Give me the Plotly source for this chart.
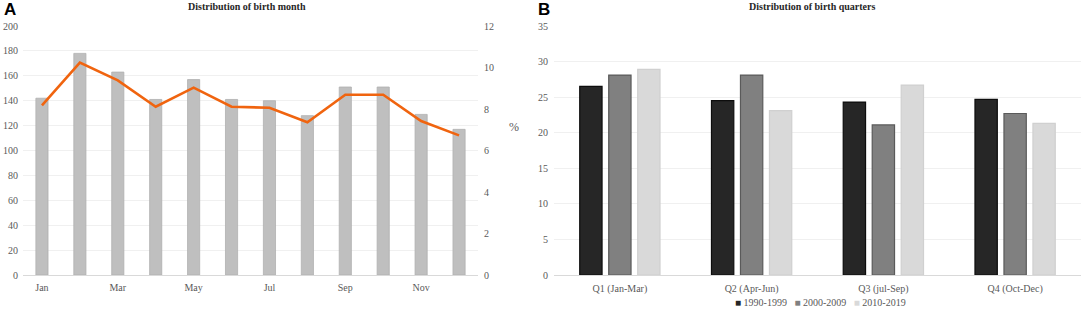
import plotly.graph_objects as go

months = ["Jan", "Feb", "Mar", "Apr", "May", "Jun", "Jul", "Aug", "Sep", "Oct", "Nov", "Dec"]
month_ticks = ["Jan", "Mar", "May", "Jul", "Sep", "Nov"]
births = [142, 178, 163, 141, 157, 141, 140, 128, 151, 151, 129, 117]
births_pct = [8.17, 10.24, 9.38, 8.11, 9.03, 8.11, 8.06, 7.36, 8.69, 8.69, 7.42, 6.73]

quarters = ["Q1 (Jan-Mar)", "Q2 (Apr-Jun)", "Q3 (jul-Sep)", "Q4 (Oct-Dec)"]
decades = ["1990-1999", "2000-2009", "2010-2019"]
q_1990 = [26.5, 24.5, 24.3, 24.7]
q_2000 = [28.1, 28.1, 21.1, 22.7]
q_2010 = [28.9, 23.1, 26.7, 21.3]

W, H = 1084, 311
def px(x):
    return x / W
def py(y):
    return 1 - y / H

tickfont = dict(family="Liberation Serif", size=10, color="#595959")
grid = "#f0f0f0"

fig = go.Figure()

fig.add_trace(go.Bar(x=months, y=births, width=0.32,
                     marker=dict(color="#bfbfbf", line=dict(color="#b0b0b0", width=0.8)),
                     xaxis="x", yaxis="y", showlegend=False))
fig.add_trace(go.Scatter(x=months, y=births_pct, mode="lines", line=dict(color="#F0640F", width=2.6),
                         xaxis="x", yaxis="y2", showlegend=False))

colors = ["#262626", "#808080", "#d9d9d9"]
lines = ["#0d0d0d", "#5a5a5a", "#d0d0d0"]
for name, vals, c, lc in zip(decades, [q_1990, q_2000, q_2010], colors, lines):
    fig.add_trace(go.Bar(x=quarters, y=vals, name=name, marker=dict(color=c, line=dict(color=lc, width=1.2)),
                         xaxis="x2", yaxis="y3", showlegend=False))

legend_text = "&nbsp;&nbsp;&nbsp;".join(
    f"<span style='color:{c}'>■</span> {d}" for d, c in zip(decades, colors))

def ann(text, x, y, size, family="Liberation Serif", color="#595959", xanchor="center"):
    return dict(text=text, x=px(x), y=py(y), xref="paper", yref="paper", showarrow=False,
                xanchor=xanchor, yanchor="middle", font=dict(family=family, size=size, color=color))

ydom = [py(275), py(26)]
fig.update_layout(
    width=W, height=H, margin=dict(l=0, r=0, t=0, b=0, autoexpand=False),
    paper_bgcolor="white", plot_bgcolor="white",
    bargap=0.34, bargroupgap=0.23, barmode="group", showlegend=False,
    xaxis=dict(domain=[px(23), px(478)], type="category", tickmode="array", tickvals=month_ticks,
               ticktext=month_ticks, tickfont=tickfont, showline=True, linecolor="#d9d9d9",
               ticks="", showgrid=False, anchor="y", automargin=False, ticklabelstandoff=3),
    yaxis=dict(domain=ydom, range=[0, 200], dtick=20, tickfont=tickfont, gridcolor=grid,
               zeroline=False, showline=False, ticklabelstandoff=4, anchor="x", automargin=False),
    yaxis2=dict(range=[0, 12], dtick=2, overlaying="y", side="right", tickfont=tickfont,
                showgrid=False, zeroline=False, anchor="x", ticklabelstandoff=5, automargin=False),
    xaxis2=dict(domain=[px(554), px(1081)], type="category", tickfont=tickfont, showline=True,
                linecolor="#d9d9d9", ticks="", showgrid=False, anchor="y3", automargin=False,
                ticklabelstandoff=4),
    yaxis3=dict(domain=ydom, range=[0, 35], dtick=5, tickfont=tickfont, gridcolor=grid,
                zeroline=False, showline=False, anchor="x2", ticklabelstandoff=5, automargin=False),
    annotations=[
        ann("<b>Distribution of birth month</b>", 247, 7, 10, color="#262626"),
        ann("<b>Distribution of birth quarters</b>", 812, 7, 10, color="#262626"),
        ann("<b>A</b>", 10, 9, 17, family="Liberation Sans", color="black"),
        ann("<b>B</b>", 544, 9, 17, family="Liberation Sans", color="black"),
        ann("%", 514, 127, 12),
        ann(legend_text, 733, 302, 10, xanchor="left"),
    ],
)

fig.write_html("out.html", config={"displayModeBar": False},
               post_script="document.body.style.margin='0px';")
